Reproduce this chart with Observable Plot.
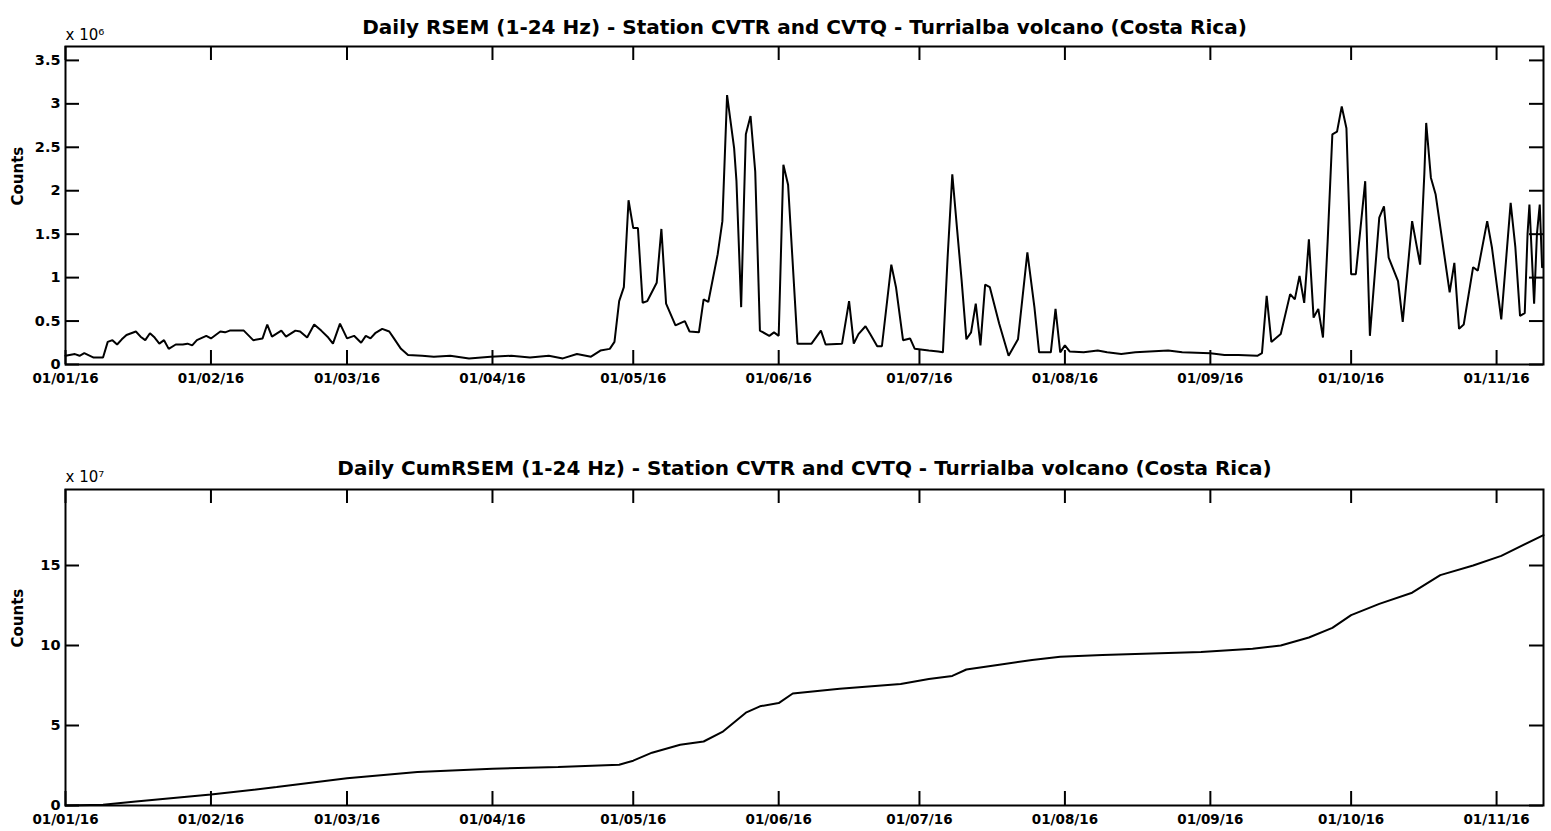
<!DOCTYPE html>
<html>
<head>
<meta charset="utf-8">
<script src="https://cdn.jsdelivr.net/npm/d3@7"></script>
<script src="https://cdn.jsdelivr.net/npm/@observablehq/plot@0.6"></script>
<style>
  html, body { margin: 0; padding: 0; background: #fff; }
  #chart svg { display: block; }
</style>
</head>
<body>
<div id="chart"></div>
<script>
// ---- data (day offsets from 2016-01-01) ----
const rsemDays = [0,2,3,4,6,8,9,10,11,12,13,15,16,17,18,19,20,21,22,23.5,25,26,27,28,30,31,33,34,35,38,40,42,43,44,46,47,49,50,51.5,53,54.5,56,57,58.5,60,61.5,63,64,65,66,67.5,69,70,71.5,73,76,78.5,82,86,90.6,95,99,103,106,109,112,114,116,117,118,119,120,121,122,123,124,126,127,128,130,132,133,135,136,137,139,140,141,142.5,143,144,144.6,145,146,147,148,150,151,152,153,154,156,159,161,162,165.5,167,168,169,170.5,171.5,173,174,176,177,178.5,180,181,184,186,187,188,189,190,191,192,193,194,195,196,197,199,201,203,205,206.5,207.5,210,211,212,213,214,217,220,222,225,228,231,235,238,244,247,250,254,255,256,257,259,261,262,263,264,265,266,267,268,269,270,271,272,273,274,275,276,277,278,280,281,282,284,285,287,288.7,289.6,290,291,292,295,296,297,298,300,301,303,304,306,308,309,310,311,311.6,312,313,313.6,314.2,314.7];
const rsemVals = [0.10,0.12,0.10,0.13,0.08,0.08,0.26,0.28,0.23,0.29,0.34,0.38,0.32,0.28,0.36,0.31,0.24,0.28,0.18,0.23,0.23,0.24,0.22,0.28,0.33,0.30,0.38,0.37,0.39,0.39,0.28,0.30,0.46,0.32,0.39,0.32,0.39,0.38,0.31,0.46,0.39,0.31,0.24,0.47,0.30,0.33,0.25,0.33,0.30,0.36,0.41,0.38,0.30,0.18,0.11,0.10,0.09,0.10,0.07,0.09,0.10,0.08,0.10,0.07,0.12,0.09,0.16,0.18,0.26,0.73,0.89,1.89,1.57,1.57,0.71,0.73,0.94,1.56,0.70,0.45,0.50,0.38,0.37,0.75,0.72,1.27,1.65,3.10,2.49,2.11,0.66,1.88,2.65,2.86,2.22,0.39,0.33,0.37,0.33,2.30,2.07,0.24,0.24,0.39,0.23,0.24,0.73,0.24,0.35,0.44,0.35,0.21,0.21,1.15,0.89,0.28,0.30,0.18,0.16,0.15,0.14,1.23,2.19,1.57,0.96,0.29,0.37,0.70,0.22,0.92,0.89,0.47,0.10,0.29,1.29,0.66,0.14,0.14,0.64,0.14,0.22,0.15,0.14,0.16,0.14,0.12,0.14,0.15,0.16,0.14,0.13,0.11,0.11,0.10,0.13,0.79,0.26,0.35,0.81,0.75,1.02,0.71,1.44,0.54,0.64,0.31,1.42,2.65,2.68,2.97,2.72,1.04,1.04,1.57,2.11,0.33,1.69,1.82,1.23,0.96,0.49,1.65,1.15,2.19,2.78,2.15,1.96,0.83,1.17,0.41,0.46,1.12,1.08,1.65,1.35,0.52,1.86,1.35,0.56,0.59,1.50,1.84,0.70,1.50,1.84,1.12]; // x 10^6

const cumDays = [0,8,15,31,45,60,75,91,105,118,121,125,131,136,140,145,148,152,155,165,178,184,189,192,199,206,212,221,242,253,259,265,270,274,280,287,293,300,306,315];
const cumVals = [0,0.05,0.25,0.69,1.15,1.7,2.1,2.3,2.4,2.55,2.8,3.3,3.8,4.0,4.6,5.8,6.2,6.4,7.0,7.3,7.6,7.9,8.1,8.5,8.8,9.1,9.3,9.4,9.6,9.8,10.0,10.5,11.1,11.9,12.6,13.3,14.4,15.0,15.6,16.9]; // x 10^7

const monthTicks = ["2016-01-01","2016-02-01","2016-03-01","2016-04-01","2016-05-01","2016-06-01","2016-07-01","2016-08-01","2016-09-01","2016-10-01","2016-11-01"];
const rsemTicks = [0,0.5,1,1.5,2,2.5,3,3.5];
const cumTicks = [0,5,10,15];
const titles = [
  "Daily RSEM (1-24 Hz) - Station CVTR and CVTQ - Turrialba volcano (Costa Rica)",
  "Daily CumRSEM (1-24 Hz) - Station CVTR and CVTQ - Turrialba volcano (Costa Rica)"
];
const exponents = ["x 10\u2076", "x 10\u2077"];
const yLabel = "Counts";
const xStart = "2016-01-01", xEnd = "2016-11-11";

// ---- build ----
const t0 = new Date(xStart + "T00:00:00Z");
const toDate = d => new Date(t0.getTime() + d * 86400000);
const rsem = rsemDays.map((d, i) => ({date: toDate(d), value: rsemVals[i]}));
const cum = cumDays.map((d, i) => ({date: toDate(d), value: cumVals[i]}));
const ticksX = monthTicks.map(s => new Date(s + "T00:00:00Z"));
const fmt = d3.utcFormat("%d/%m/%y");
const FONT = "DejaVu Sans";
const TICK = 14;

function panel({data, yDomain, yTicks, title, exponent, height, marginTop, marginBottom, titleDy, expDy}) {
  const W = 1551, mL = 65, mR = 8;
  const fh = height - marginTop - marginBottom;
  const fw = W - mL - mR;
  return Plot.plot({
    width: W, height,
    marginLeft: mL, marginRight: mR, marginTop, marginBottom,
    style: {fontFamily: FONT, background: "#fff", color: "#000"},
    x: {type: "utc", domain: [new Date(xStart + "T00:00:00Z"), new Date(xEnd + "T00:00:00Z")]},
    y: {domain: yDomain},
    marks: [
      Plot.axisX({ticks: ticksX, tickSize: 0, tickPadding: 9, tickFormat: fmt, fontSize: 13.5, fontWeight: "bold", label: null}),
      Plot.axisY({ticks: yTicks, tickSize: 0, tickPadding: 5, tickFormat: d => String(d), fontSize: 14.5, fontWeight: "bold", label: null}),
      Plot.ruleX(ticksX, {insetTop: fh - TICK, strokeWidth: 2}),
      Plot.ruleX(ticksX, {insetBottom: fh - TICK, strokeWidth: 2}),
      Plot.ruleY(yTicks, {insetRight: fw - TICK, strokeWidth: 2}),
      Plot.ruleY(yTicks, {insetLeft: fw - TICK, strokeWidth: 2}),
      Plot.line(data, {x: "date", y: "value", stroke: "#000", strokeWidth: 2, strokeLinejoin: "miter"}),
      Plot.frame({stroke: "#000", strokeWidth: 2}),
      Plot.text([title], {frameAnchor: "top", dy: titleDy, fontSize: 20, fontWeight: "bold"}),
      Plot.text([exponent], {frameAnchor: "top-left", textAnchor: "start", dy: expDy, fontSize: 15}),
      Plot.text([yLabel], {frameAnchor: "left", rotate: -90, dx: -47, fontSize: 15, fontWeight: "bold"})
    ]
  });
}

const chart = document.getElementById("chart");
chart.append(panel({data: rsem, yDomain: [0, 3.66], yTicks: rsemTicks, title: titles[0], exponent: exponents[0],
  height: 415, marginTop: 46, marginBottom: 51, titleDy: -27, expDy: -17}));
chart.append(panel({data: cum, yDomain: [0, 19.75], yTicks: cumTicks, title: titles[1], exponent: exponents[1],
  height: 416, marginTop: 74, marginBottom: 26, titleDy: -29, expDy: -18}));
</script>
</body>
</html>
